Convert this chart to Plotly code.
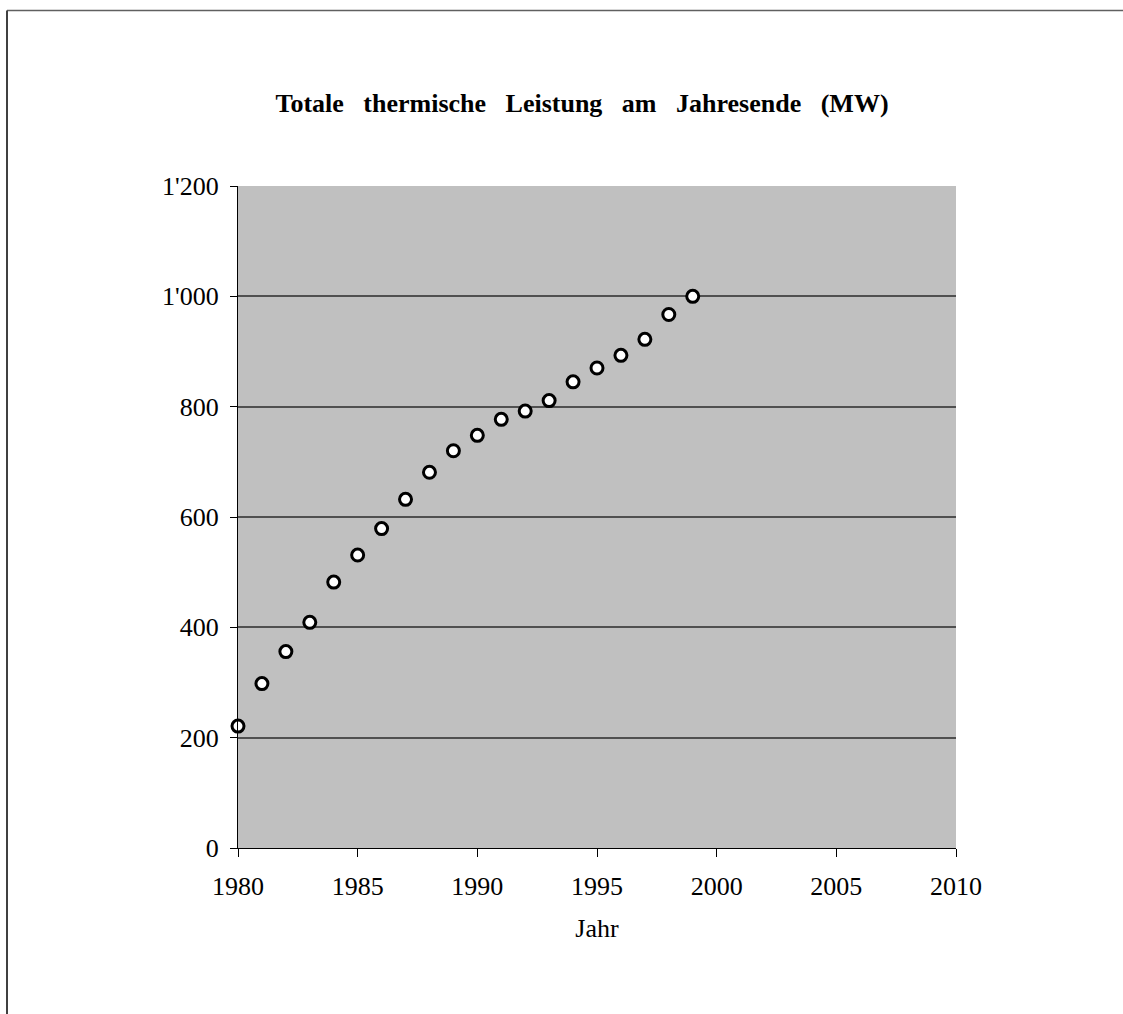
import plotly.graph_objects as go

years = [1980, 1981, 1982, 1983, 1984, 1985, 1986, 1987, 1988, 1989,
         1990, 1991, 1992, 1993, 1994, 1995, 1996, 1997, 1998, 1999]
leistung_mw = [221, 298, 356, 409, 482, 531, 579, 632, 681, 720,
               748, 777, 792, 811, 845, 870, 893, 922, 967, 1000]

title_text = "Totale\u00a0\u00a0 thermische\u00a0\u00a0 Leistung\u00a0\u00a0 am\u00a0\u00a0 Jahresende\u00a0\u00a0 (MW)"
x_title = "Jahr"

FONT = "Liberation Serif, Times New Roman, serif"

fig = go.Figure()
fig.add_trace(go.Scatter(
    x=years, y=leistung_mw, mode="markers",
    marker=dict(size=12, color="white", line=dict(color="black", width=3)),
    cliponaxis=False, showlegend=False,
))

W, H = 1123, 1014
L, R, T, B = 238, 167, 186, 166
pw, ph = W - L - R, H - T - B

def px(x):
    return (x - L) / pw

def py(y):
    return (H - B - y) / ph

fig.update_layout(
    width=W, height=H,
    margin=dict(l=L, r=R, t=T, b=B, autoexpand=False),
    paper_bgcolor="white",
    plot_bgcolor="#c0c0c0",
    separators=".'",
    font=dict(family=FONT, size=26, color="black"),
    title=dict(
        text="<b>" + title_text + "</b>",
        font=dict(family=FONT, size=26, color="black"),
        xref="paper", x=px(582), xanchor="center",
        yref="container", y=1 - 103 / H, yanchor="middle",
    ),
    xaxis=dict(
        range=[1980, 2010], dtick=5, tick0=1980,
        showgrid=False, zeroline=False,
        showline=True, linecolor="black", linewidth=1,
        ticks="outside", ticklen=8, tickwidth=1, tickcolor="black",
        tickfont=dict(family=FONT, size=26),
        ticklabelstandoff=7,
        title=dict(text=x_title, font=dict(family=FONT, size=26), standoff=18),
    ),
    yaxis=dict(
        range=[0, 1200], dtick=200, tick0=0,
        tickformat=",",
        showgrid=True, gridcolor="#505050", gridwidth=1.5,
        zeroline=False,
        showline=True, linecolor="black", linewidth=1,
        ticks="outside", ticklen=7, tickwidth=1, tickcolor="black",
        tickfont=dict(family=FONT, size=26),
        ticklabelstandoff=6,
    ),
    shapes=[
        dict(type="line", xref="paper", yref="paper",
             x0=px(7), x1=px(1200), y0=py(10.5), y1=py(10.5),
             line=dict(color="#606060", width=1.5)),
        dict(type="line", xref="paper", yref="paper",
             x0=px(7), x1=px(7), y0=py(10.5), y1=py(1100),
             line=dict(color="#404040", width=2)),
    ],
)

fig.write_html("out.html")
